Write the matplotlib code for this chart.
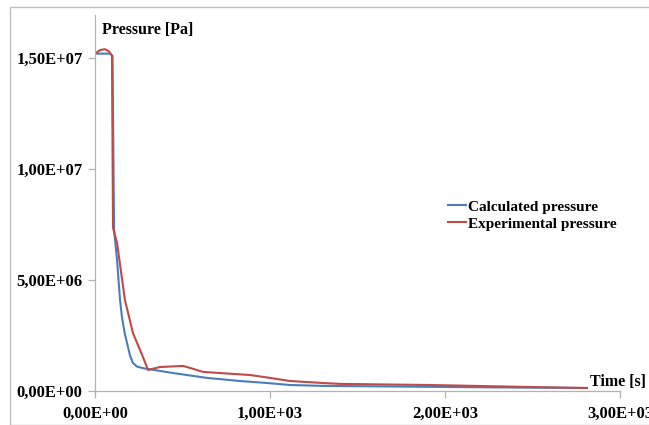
import matplotlib
matplotlib.use("Agg")
import matplotlib.pyplot as plt
from matplotlib.patches import Rectangle
from matplotlib.ticker import FuncFormatter

# Calculated pressure (blue)
t_calc = [0, 86, 100, 109, 126, 143, 154, 170, 183, 200, 217, 240, 274, 303, 446, 640, 829,
          983, 1114, 1303, 1743, 2314, 2811]
p_calc = [1.52e7, 1.52e7, 1.51e7, 7.25e6, 5.9e6, 4.1e6, 3.33e6, 2.6e6, 2.16e6, 1.6e6, 1.26e6,
          1.1e6, 1.03e6, 0.99e6, 0.81e6, 0.59e6, 0.45e6, 0.36e6, 0.27e6, 0.23e6, 0.20e6,
          0.16e6, 0.135e6]

# Experimental pressure (red)
t_exp = [0, 29, 57, 80, 97, 103, 126, 171, 217, 274, 303, 371, 503, 543, 617, 886,
         1000, 1114, 1303, 1400, 1914, 2486, 2811]
p_exp = [1.52e7, 1.536e7, 1.54e7, 1.53e7, 1.51e7, 7.35e6, 6.67e6, 4.1e6, 2.61e6, 1.53e6,
         0.95e6, 1.08e6, 1.13e6, 1.04e6, 0.86e6, 0.72e6, 0.59e6, 0.45e6, 0.36e6, 0.32e6,
         0.27e6, 0.18e6, 0.135e6]

x_ticks = [0, 1000, 2000, 3000]
y_ticks = [0, 5e6, 1e7, 1.5e7]

W, H = 649, 425
fig = plt.figure(figsize=(W / 100, H / 100), dpi=100)
fig.patch.set_facecolor("white")

# outer frame
fig.patches.append(Rectangle((10 / W, 0), 700 / W, 1 - 7 / H, transform=fig.transFigure,
                             fill=False, edgecolor="#bfbfbf", linewidth=1.0))

ax = fig.add_axes([95 / W, 34 / H, 525 / W, 376 / H])
ax.set_facecolor("none")

ax.plot(t_calc, p_calc, color="#4a7ebb", lw=1.5, label="Calculated pressure")
ax.plot(t_exp, p_exp, color="#be4b48", lw=1.5, label="Experimental pressure")

ax.set_xlim(0, 3000)
ax.set_ylim(0, 1.694e7)
ax.set_xticks(x_ticks)
ax.set_yticks(y_ticks)

def fmt(v, pos):
    s = "%.2E" % v
    return s.replace(".", ",")

ax.xaxis.set_major_formatter(FuncFormatter(fmt))
ax.yaxis.set_major_formatter(FuncFormatter(fmt))

for s in ["top", "right"]:
    ax.spines[s].set_visible(False)
for s in ["left", "bottom"]:
    ax.spines[s].set_color("#b3b3b3")
    ax.spines[s].set_linewidth(0.9)

font = {"family": "Liberation Serif", "weight": "bold", "size": 11.5}
ax.tick_params(axis="both", length=5, color="#b3b3b3", width=0.9, pad=4)
for lbl in ax.get_xticklabels() + ax.get_yticklabels():
    lbl.set_fontfamily("Liberation Serif")
    lbl.set_fontweight("bold")
    lbl.set_fontsize(12)
ax.tick_params(axis="x", pad=6)

fig.text(102 / W, 1 - 30 / H, "Pressure [Pa]", ha="left", va="center", **font)
fig.text(590 / W, 1 - 382 / H, "Time [s]", ha="left", va="center", **font)

leg = ax.legend(loc="upper left", bbox_to_anchor=(347 / 525, 1 - 179 / 376),
                frameon=False, prop={"family": "Liberation Serif", "weight": "bold", "size": 11},
                handlelength=1.2, handletextpad=0.1, labelspacing=0.2, borderaxespad=0)

fig.savefig("out.png", dpi=100)
